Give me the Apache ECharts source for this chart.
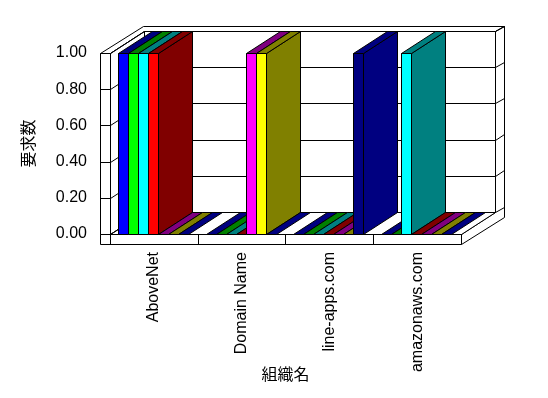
<!DOCTYPE html>
<html>
<head>
<meta charset="utf-8">
<script src="https://cdn.jsdelivr.net/npm/echarts@6/dist/echarts.min.js"></script>
<style>
html, body { margin: 0; padding: 0; background: #fff; }
#chart { width: 548px; height: 398px; }
</style>
</head>
<body>
<div id="chart"></div>
<script>
// data
var categories = ['AboveNet', 'Domain Name', 'line-apps.com', 'amazonaws.com'];
// one row per series, one value per category
var series1 = [1, 0, 0, 0];
var series2 = [1, 0, 0, 0];
var series3 = [1, 0, 0, 1];
var series4 = [1, 0, 0, 0];
var series5 = [0, 1, 0, 0];
var series6 = [0, 1, 0, 0];
var series7 = [0, 0, 1, 0];
var yTicks = [0, 0.2, 0.4, 0.6, 0.8, 1.0];

var seriesRows = [series1, series2, series3, series4, series5, series6, series7];

// styles
var faceColors = ['#0000ff', '#00ff00', '#00ffff', '#ff0000', '#ff00ff', '#ffff00', '#000080'];
var shadeColors = ['#000080', '#008000', '#008080', '#800000', '#800080', '#808000', '#000080'];
var DX = 34, DY = -22;   // depth offset of the floor
var WALL = 10;           // thickness of left wall and floor
var BACK = 0.25;         // back wall thickness, as share of depth

function px(v) { return Math.round(v) + 0.5; }
function snap(points) { return points.map(function (p) { return [px(p[0]), px(p[1])]; }); }
function poly(points, fill) {
	return {
		type: 'polygon',
		shape: { points: snap(points) },
		style: { fill: fill, stroke: '#000', lineWidth: 1 }
	};
}

// bars in drawing order: category by category, left to right
var barData = [];
categories.forEach(function (c, ci) {
	seriesRows.forEach(function (row, si) {
		barData.push([ci, row[ci], si]);
	});
});

var renderWalls = function (params, api) {
	var cs = params.coordSys;
	var x0 = cs.x, x1 = cs.x + cs.width, yT = cs.y, yB = cs.y + cs.height;
	var xo = x0 - WALL, yo = yB + WALL;
	var bx = DX * (1 + BACK), by = DY * (1 + BACK);
	var kids = [];
	// outside faces
	kids.push(poly([[xo, yT], [x0, yT], [x0 + DX, yT + DY], [x1 + DX, yT + DY], [x1 + bx, yT + by], [xo + bx, yT + by]], '#fff'));
	kids.push(poly([[x1, yB], [x1, yo], [x1 + bx, yo + by], [x1 + bx, yT + by], [x1 + DX, yT + DY], [x1 + DX, yB + DY]], '#fff'));
	kids.push(poly([[xo, yT], [x0, yT], [x0, yB], [xo, yB]], '#fff'));
	kids.push(poly([[xo, yB], [x1, yB], [x1, yo], [xo, yo]], '#fff'));
	// inner faces
	kids.push(poly([[x0, yB], [x0, yT], [x0 + DX, yT + DY], [x0 + DX, yB + DY]], '#fff'));
	kids.push(poly([[x0 + DX, yT + DY], [x1 + DX, yT + DY], [x1 + DX, yB + DY], [x0 + DX, yB + DY]], '#fff'));
	kids.push(poly([[x0, yB], [x1, yB], [x1 + DX, yB + DY], [x0 + DX, yB + DY]], '#fff'));
	// grid lines wrapping round the walls
	yTicks.forEach(function (t) {
		var y = api.coord([0, t])[1];
		kids.push({
			type: 'polyline',
			shape: { points: snap([[xo, y], [x0, y], [x0 + DX, y + DY], [x1 + DX, y + DY], [x1 + bx, y + by]]) },
			style: { fill: 'none', stroke: '#000', lineWidth: 1 }
		});
	});
	return { type: 'group', children: kids };
};

var renderBar = function (params, api) {
	var ci = api.value(0), v = api.value(1), si = api.value(2);
	var band = api.size([1, 0])[0];
	var base = api.coord([ci, 0]);
	var top = api.coord([ci, v]);
	var w = band * 0.114;
	var L = base[0] - band / 2 + band * 0.09 + si * w;
	var R = L + w;
	var y0 = base[1], y1 = top[1];
	var kids = [];
	if (v > 0) {
		kids.push(poly([[L, y1], [R, y1], [R, y0], [L, y0]], faceColors[si]));
		kids.push(poly([[R, y0], [R, y1], [R + DX, y1 + DY], [R + DX, y0 + DY]], shadeColors[si]));
	}
	kids.push(poly([[L, y1], [R, y1], [R + DX, y1 + DY], [L + DX, y1 + DY]], shadeColors[si]));
	return { type: 'group', children: kids };
};

var chart = echarts.init(document.getElementById('chart'));
var option = {
	animation: false,
	backgroundColor: '#fff',
	grid: {
		left: 110,
		right: 87,
		top: 53,
		bottom: 164,
		outerBoundsMode: 'none'
	},
	xAxis: {
		type: 'category',
		data: categories,
		z: 10,
		name: '組織名',
		nameLocation: 'middle',
		nameGap: 132,
		nameMoveOverlap: false,
		nameTextStyle: { color: '#000', fontSize: 16, fontFamily: 'Noto Sans CJK JP' },
		axisLine: { show: false },
		axisTick: { show: true, length: 10, interval: 0, lineStyle: { color: '#000' } },
		axisLabel: {
			rotate: 90,
			interval: 0,
			margin: 18,
			color: '#000',
			fontSize: 16,
			fontFamily: 'Liberation Sans'
		},
		splitLine: { show: false }
	},
	yAxis: {
		type: 'value',
		min: 0,
		max: 1,
		interval: 0.2,
		name: '要求数',
		nameLocation: 'middle',
		nameRotate: 90,
		nameGap: 74,
		nameMoveOverlap: false,
		nameTextStyle: { color: '#000', fontSize: 16, fontFamily: 'Noto Sans CJK JP' },
		axisLine: { show: false },
		axisTick: { show: false },
		splitLine: { show: false },
		axisLabel: {
			margin: 23,
			color: '#000',
			fontSize: 16,
			fontFamily: 'Liberation Sans',
			formatter: function (v) { return v.toFixed(2); }
		}
	},
	series: [
		{
			type: 'custom',
			name: 'walls',
			clip: false,
			silent: true,
			renderItem: renderWalls,
			data: [[0, 0]]
		},
		{
			type: 'custom',
			name: 'bars',
			clip: false,
			renderItem: renderBar,
			encode: { x: 0, y: 1 },
			data: barData
		}
	]
};
chart.setOption(option);
</script>
</body>
</html>
